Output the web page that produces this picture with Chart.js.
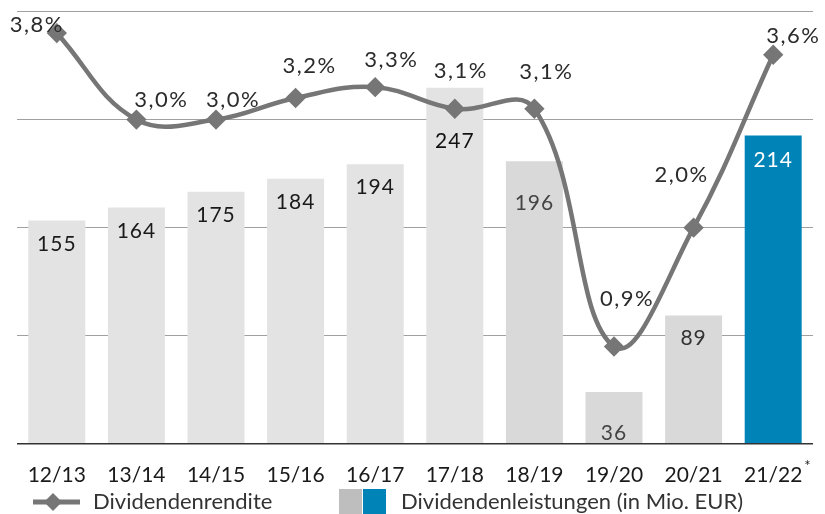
<!DOCTYPE html>
<html>
<head>
<meta charset="utf-8">
<script src="https://cdn.jsdelivr.net/npm/chart.js@4"></script>
<style>
  html, body { margin: 0; padding: 0; background: #fff; }
  #wrap { width: 825px; height: 514px; position: relative; }
</style>
</head>
<body>
<div id="wrap"><canvas id="dividendChart" width="825" height="514"></canvas></div>
<script>
// Data
const years = ['12/13', '13/14', '14/15', '15/16', '16/17', '17/18', '18/19', '19/20', '20/21', '21/22'];
const payouts = [155, 164, 175, 184, 194, 247, 196, 36, 89, 214]; // Mio. EUR
const yields = [3.8, 3.0, 3.0, 3.2, 3.3, 3.1, 3.1, 0.9, 2.0, 3.6]; // %
const barTicks = [0, 75, 150, 225, 300];

// Styling
const FONT = 'Lato, "Noto Sans", sans-serif';
const barColors = ['#e3e3e3', '#e3e3e3', '#e3e3e3', '#e3e3e3', '#e3e3e3', '#e3e3e3',
                   '#d9d9d9', '#d9d9d9', '#d9d9d9', '#0083b6'];
const barLabelColors = ['#1a1a1a', '#1a1a1a', '#1a1a1a', '#1a1a1a', '#1a1a1a', '#111',
                        '#444', '#444', '#333', '#fff'];
// label offsets below bar top (px)
const barLabelDy = [24, 24, 24, 24, 23, 53, 42, 41, 23, 25];
// yield label offsets from point (px)
const yieldLabelDx = [-20, 25, 17, 14, 16, 6, 12, 13, -12, 20];
const yieldLabelDy = [-8, -20, -20, -32, -27, -38, -37, -48, -53, -19];

const fmtPct = v => v.toFixed(1).replace('.', ',') + '%';

const labelsPlugin = {
    id: 'labels',
    afterDatasetsDraw(chart) {
        const ctx = chart.ctx;
        const area = chart.chartArea;
        ctx.save();
        ctx.textAlign = 'center';
        ctx.textBaseline = 'middle';

        ctx.font = '21px ' + FONT;
        ctx.letterSpacing = '1px';
        chart.getDatasetMeta(1).data.forEach((bar, i) => {
            ctx.fillStyle = barLabelColors[i];
            ctx.fillText(String(payouts[i]), bar.x, bar.y + barLabelDy[i]);
        });

        ctx.font = '22px ' + FONT;
        ctx.letterSpacing = '1.5px';
        ctx.fillStyle = '#2b2b2b';
        chart.getDatasetMeta(0).data.forEach((pt, i) => {
            ctx.fillText(fmtPct(yields[i]), pt.x + yieldLabelDx[i], pt.y + yieldLabelDy[i]);
        });
        ctx.letterSpacing = '0px';

        // asterisk on last category
        const x = chart.scales.x;
        ctx.font = '21px ' + FONT;
        const w = ctx.measureText(years[years.length - 1]).width;
        ctx.font = '15px ' + FONT;
        ctx.fillStyle = '#1a1a1a';
        ctx.textAlign = 'left';
        ctx.fillText('*', x.getPixelForTick(years.length - 1) + w / 2 + 2, area.bottom + 22);

        // legend
        const ly = 502;
        ctx.strokeStyle = '#767676';
        ctx.lineWidth = 5;
        ctx.beginPath();
        ctx.moveTo(33, ly);
        ctx.lineTo(80, ly);
        ctx.stroke();
        ctx.fillStyle = '#767676';
        ctx.beginPath();
        ctx.moveTo(53, ly - 9);
        ctx.lineTo(62, ly);
        ctx.lineTo(53, ly + 9);
        ctx.lineTo(44, ly);
        ctx.closePath();
        ctx.fill();

        ctx.fillStyle = '#bebebe';
        ctx.fillRect(339, 489, 23, 25);
        ctx.fillStyle = '#0083b6';
        ctx.fillRect(363, 489, 23, 25);

        ctx.font = '22px ' + FONT;
        ctx.fillStyle = '#333';
        ctx.textAlign = 'left';
        ctx.fillText('Dividendenrendite', 93, ly);
        ctx.fillText('Dividendenleistungen (in Mio. EUR)', 401, ly);
        ctx.restore();
    }
};

const config = {
    type: 'bar',
    data: {
        labels: years,
        datasets: [{
            type: 'line',
            label: 'Dividendenrendite',
            data: yields,
            yAxisID: 'yPct',
            borderColor: '#767676',
            backgroundColor: '#767676',
            borderWidth: 4.5,
            tension: 0.4,
            pointStyle: 'rectRot',
            pointRadius: 7,
            pointHoverRadius: 7,
            order: 0
        }, {
            type: 'bar',
            label: 'Dividendenleistungen (in Mio. EUR)',
            data: payouts,
            yAxisID: 'y',
            backgroundColor: barColors,
            categoryPercentage: 1,
            barPercentage: 0.716,
            order: 1
        }]
    },
    options: {
        responsive: false,
        animation: false,
        events: [],
        layout: { padding: { left: 17, right: 12, top: 7, bottom: 7 } },
        plugins: {
            legend: { display: false },
            tooltip: { enabled: false }
        },
        scales: {
            x: {
                offset: true,
                grid: { display: false, drawTicks: false },
                border: { display: false },
                ticks: {
                    color: '#1a1a1a',
                    font: { family: FONT, size: 21 },
                    padding: 19,
                    maxRotation: 0
                }
            },
            y: {
                min: 0,
                max: 300,
                afterBuildTicks: axis => { axis.ticks = barTicks.map(v => ({ value: v })); },
                ticks: { display: false },
                border: { display: false },
                grid: {
                    drawTicks: false,
                    color: c => c.tick.value === 0 ? '#333' : '#a0a0a0',
                    lineWidth: c => c.tick.value === 0 ? 1.5 : 1
                }
            },
            yPct: {
                min: 0,
                max: 4,
                display: false
            }
        }
    },
    plugins: [labelsPlugin]
};

window.onload = function() {
    const ctx = document.getElementById('dividendChart').getContext('2d');
    new Chart(ctx, config);
};
</script>
</body>
</html>
